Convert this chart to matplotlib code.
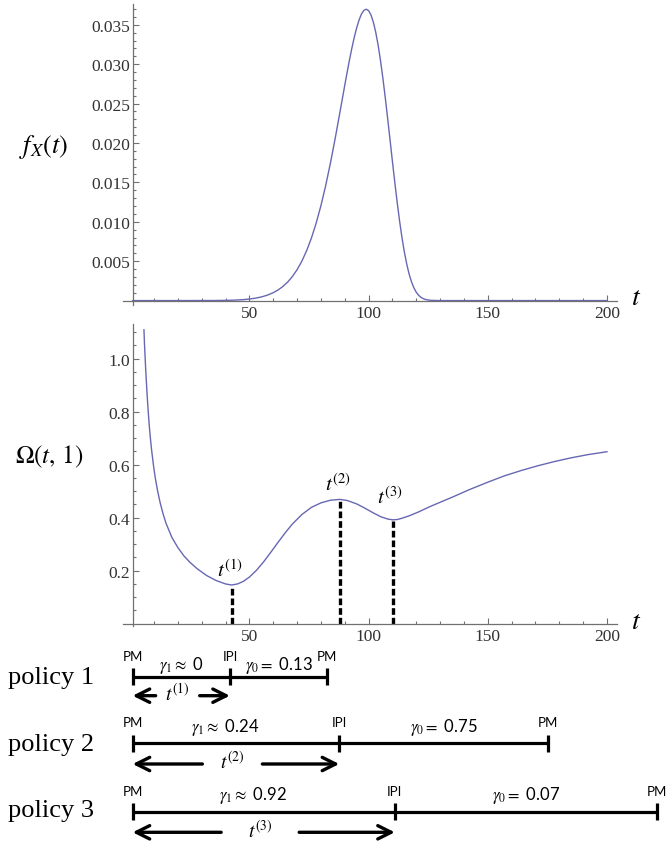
import matplotlib
matplotlib.use('Agg')
import matplotlib.pyplot as plt

plt.rcParams['mathtext.fontset'] = 'stix'

# ---------------- data ----------------
t_pdf = [1, 20, 35, 40, 42.5, 45, 47.5, 50, 52.5, 55, 57.5, 60, 62, 64, 66, 68, 70, 72, 74, 76,
         78, 80, 82, 84, 86, 88, 90, 91, 92, 93, 94, 95, 96, 97, 98, 99, 100, 101, 102, 103,
         104, 105, 106, 107, 108, 109, 110, 111, 112, 113, 114, 115, 116, 117, 118, 119, 120,
         121, 122, 123, 124, 126, 130, 150, 200]
f_pdf = [0.0, 0.0, 0.000008, 0.000026, 0.000045, 0.000076, 0.000123, 0.000195, 0.000303,
         0.000459, 0.000684, 0.001002, 0.001342, 0.001781, 0.002339, 0.003044, 0.003923,
         0.005009, 0.006334, 0.007932, 0.009832, 0.012055, 0.014609, 0.017481, 0.020624,
         0.023955, 0.027339, 0.028990, 0.030582, 0.032074, 0.033439, 0.034632, 0.035623,
         0.036363, 0.036830, 0.036978, 0.036788, 0.036241, 0.035319, 0.034030, 0.032392,
         0.030430, 0.028186, 0.025711, 0.023078, 0.020359, 0.017626, 0.014960, 0.012423,
         0.010079, 0.007984, 0.006160, 0.004617, 0.003359, 0.002365, 0.001609, 0.001057,
         0.000666, 0.000403, 0.000233, 0.000128, 0.00003, 0.0, 0.0, 0.0]

t_omega = [5.75, 6.0, 6.5, 7.0, 7.5, 8.0, 8.5, 9.0, 9.75, 10.5, 11.5, 12.5, 13.75, 15, 17.5,
           20, 22.5, 25, 28, 32, 36, 40, 42.5, 45, 47.5, 50, 53, 56, 59, 62, 65, 68, 72, 76,
           80, 84, 88, 91, 95, 98, 102, 105, 108, 110, 112, 114, 117, 121, 126, 131, 136, 142,
           150, 157, 164, 171, 178, 185, 192, 200]
omega = [1.109, 1.050, 0.955, 0.875, 0.805, 0.745, 0.695, 0.652, 0.597, 0.550, 0.500, 0.458,
         0.415, 0.379, 0.325, 0.287, 0.256, 0.232, 0.208, 0.182, 0.163, 0.150, 0.146, 0.150,
         0.160, 0.176, 0.202, 0.234, 0.270, 0.307, 0.343, 0.376, 0.412, 0.439, 0.456, 0.466,
         0.469, 0.465, 0.452, 0.438, 0.418, 0.404, 0.395, 0.392, 0.393, 0.398, 0.407, 0.422,
         0.443, 0.462, 0.481, 0.505, 0.534, 0.558, 0.578, 0.596, 0.612, 0.626, 0.638, 0.649]

mark_t = [42.5, 88.0, 110.2]
mark_v = [0.146, 0.469, 0.392]
mark_names = [r'$t^{(1)}$', r'$t^{(2)}$', r'$t^{(3)}$']

x_major = [50, 100, 150, 200]
x_minor = [10, 20, 30, 40, 60, 70, 80, 90, 110, 120, 130, 140, 160, 170, 180, 190]
top_yticks = [0.005, 0.010, 0.015, 0.020, 0.025, 0.030, 0.035]
top_yminor = [0.001, 0.002, 0.003, 0.004, 0.006, 0.007, 0.008, 0.009, 0.011, 0.012, 0.013,
              0.014, 0.016, 0.017, 0.018, 0.019, 0.021, 0.022, 0.023, 0.024, 0.026, 0.027,
              0.028, 0.029, 0.031, 0.032, 0.033, 0.034, 0.036, 0.037]
bot_yticks = [0.2, 0.4, 0.6, 0.8, 1.0]
bot_yminor = [0.05, 0.1, 0.15, 0.25, 0.3, 0.35, 0.45, 0.5, 0.55, 0.65, 0.7, 0.75, 0.85,
              0.9, 0.95, 1.05, 1.1]

policy_names = ['policy 1', 'policy 2', 'policy 3']
pm_start = [1, 1, 1]
ipi_t = [41.8, 87.7, 111.0]
pm_end = [82.6, 175.3, 221.1]
gamma1 = ['0', '0.24', '0.92']
gamma0 = ['0.13', '0.75', '0.07']

# ---------------- layout ----------------
W_PX, H_PX = 670, 845
curve_color = '#6767b4'
axis_color = '#707070'
tick_lab_color = '#333333'
XLIM = (-3, 204.2)
L, W = 0.18373, 0.73716

fig = plt.figure(figsize=(6.7, 8.45), dpi=100)
ax1 = fig.add_axes([L, 0.63751, W, 0.35716])
ax2 = fig.add_axes([L, 0.25757, W, 0.35752])


def style(ax, ylim, yt, ylabels, ym):
    ax.set_xlim(*XLIM)
    ax.set_ylim(*ylim)
    ax.patch.set_visible(False)
    for s in ['top', 'right']:
        ax.spines[s].set_visible(False)
    ax.spines['left'].set_position(('data', 1))
    ax.spines['bottom'].set_position(('data', 0))
    for s in ['left', 'bottom']:
        ax.spines[s].set_color(axis_color)
        ax.spines[s].set_linewidth(0.9)
    ax.set_xticks(x_major)
    ax.set_xticklabels([str(v) for v in x_major])
    ax.set_xticks(x_minor, minor=True)
    ax.set_yticks(yt)
    ax.set_yticklabels(ylabels)
    ax.set_yticks(ym, minor=True)
    ax.tick_params(which='both', direction='in', color=axis_color, width=0.8,
                   labelcolor=tick_lab_color, labelsize=12.5)
    ax.tick_params(which='major', length=4.3)
    ax.tick_params(which='minor', length=2.4)
    ax.tick_params(axis='x', pad=3)
    ax.tick_params(axis='y', pad=2)
    for lab in ax.get_xticklabels() + ax.get_yticklabels():
        lab.set_fontfamily('Liberation Serif')


ax1.plot(t_pdf, f_pdf, color=curve_color, lw=1.0, solid_joinstyle='round')
style(ax1, (-0.0006, 0.0377), top_yticks, ['%.3f' % v for v in top_yticks], top_yminor)

ax2.plot(t_omega, omega, color=curve_color, lw=1.0, solid_joinstyle='round')
style(ax2, (-0.01, 1.13), bot_yticks, ['%.1f' % v for v in bot_yticks], bot_yminor)

label_dv = [0.060, 0.062, 0.090]
label_dt = [-0.7, -0.8, -1.2]
for tm, vm, nm, dv, dt in zip(mark_t, mark_v, mark_names, label_dv, label_dt):
    ax2.plot([tm, tm], [0, vm - 0.004], color='black', lw=2.4, dashes=(2.0, 0.9),
             solid_capstyle='butt', dash_capstyle='butt')
    ax2.text(tm + dt, vm + dv, nm, fontsize=15, ha='center', va='center')

# axis / function labels
fig.text(44 / W_PX, 1 - 147 / H_PX, r'$f_X(t)$', fontsize=19, ha='center', va='center')
fig.text(49 / W_PX, 1 - 457 / H_PX, r'$\Omega(t,\,1)$', fontsize=18, ha='center', va='center')
fig.text(636 / W_PX, 1 - 297 / H_PX, r'$t$', fontsize=20, ha='center', va='center')
fig.text(636 / W_PX, 1 - 621 / H_PX, r'$t$', fontsize=20, ha='center', va='center')

# ---------------- policy diagram ----------------
ax3 = fig.add_axes([L, 0, W, 1])
ax3.set_xlim(*XLIM)
ax3.set_ylim(H_PX, 0)
ax3.axis('off')

bar_y = [677.7, 744.0, 812.7]
arrow_y = [696.7, 765.0, 833.3]
name_y = [678, 745, 811]
g_dy = [-12, -16.5, -17]
g1_dx = [0, -4.5, -4.5]
gap_px = [22, 30, 39]
px_per_t = W * W_PX / (XLIM[1] - XLIM[0])
sans = 'Lato'
lw_bar = 2.3

for i in range(3):
    y = bar_y[i]
    ya = arrow_y[i]
    s, m, e = pm_start[i], ipi_t[i], pm_end[i]
    fig.text(8 / W_PX, 1 - name_y[i] / H_PX, policy_names[i], fontsize=19,
             family='Liberation Serif', ha='left', va='center')
    ax3.plot([s, e], [y, y], color='black', lw=lw_bar, solid_capstyle='butt', clip_on=False)
    for xx in (s, m, e):
        ax3.plot([xx, xx], [y - 8.5, y + 8.5], color='black', lw=lw_bar,
                 solid_capstyle='butt', clip_on=False)
    ax3.text(s, y - 21, 'PM', fontsize=9.5, family=sans, ha='center', va='center')
    ax3.text(m, y - 21, 'IPI', fontsize=9.5, family=sans, ha='center', va='center')
    ax3.text(e, y - 21, 'PM', fontsize=9.5, family=sans, ha='center', va='center')
    ax3.text((s + m) / 2 + g1_dx[i], y + g_dy[i], r'$\gamma_1 \approx$ ' + gamma1[i],
             fontsize=12, family=sans, ha='center', va='center')
    ax3.text((m + e) / 2, y + g_dy[i], r'$\gamma_0 =$ ' + gamma0[i],
             fontsize=12, family=sans, ha='center', va='center')
    mid = (s + m) / 2 - 1.5
    gap = gap_px[i] / px_per_t
    ax3.text(mid, ya - 3, mark_names[i], fontsize=14, ha='center', va='center')
    ap = dict(arrowstyle='->', lw=2.4, color='black', mutation_scale=24,
              shrinkA=0, shrinkB=0)
    ax3.annotate('', xy=(s, ya), xytext=(mid - gap, ya), arrowprops=ap, annotation_clip=False)
    ax3.annotate('', xy=(m, ya), xytext=(mid + gap, ya), arrowprops=ap, annotation_clip=False)

fig.savefig('out.png', dpi=100)
